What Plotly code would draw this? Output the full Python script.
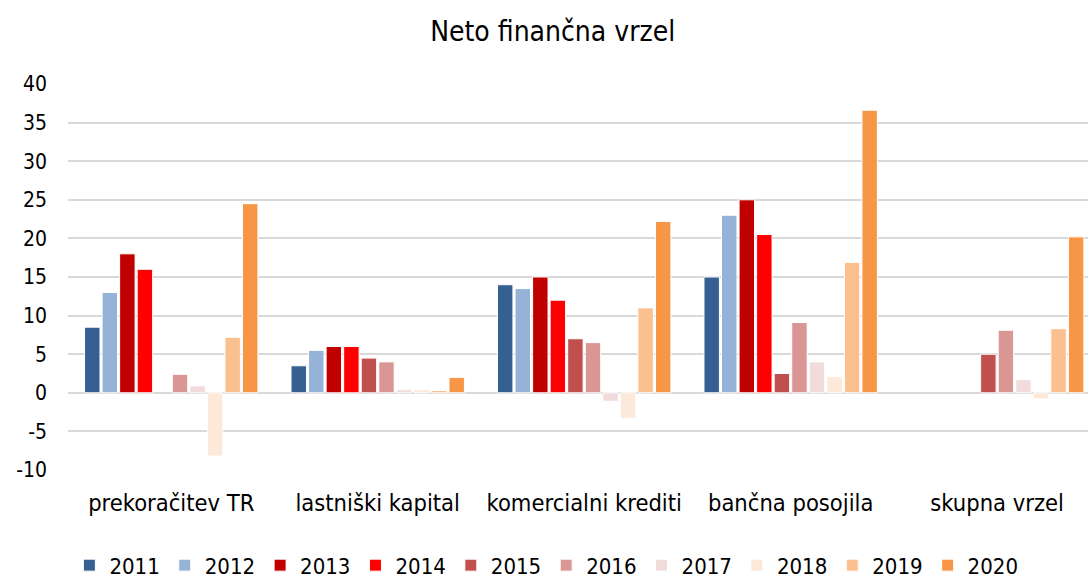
import plotly.graph_objects as go

categories = ["prekoračitev TR", "lastniški kapital", "komercialni krediti", "bančna posojila", "skupna vrzel"]
years = ["2011", "2012", "2013", "2014", "2015", "2016", "2017", "2018", "2019", "2020"]
colors = ["#376092", "#95B3D7", "#C00000", "#FF0000", "#C0504D",
          "#D99694", "#F2DCDB", "#FDE9D9", "#FAC090", "#F79646"]

v2011 = [8.5, 3.5, 14.0, 15.0, None]
v2012 = [13.0, 5.5, 13.5, 23.0, None]
v2013 = [18.0, 6.0, 15.0, 25.0, None]
v2014 = [16.0, 6.0, 12.0, 20.5, None]
v2015 = [None, 4.5, 7.0, 2.5, 5.0]
v2016 = [2.4, 4.0, 6.5, 9.1, 8.1]
v2017 = [0.9, 0.4, -1.1, 4.0, 1.7]
v2018 = [-8.2, 0.4, -3.3, 2.1, -0.8]
v2019 = [7.2, 0.3, 11.0, 16.9, 8.3]
v2020 = [24.5, 2.0, 22.2, 36.6, 20.2]

y_tickvals = [-10, -5, 0, 5, 10, 15, 20, 25, 30, 35, 40]
y_ticktext = ["-10", "-5", "0", "5", "10", "15", "20", "25", "30", "35", "40"]

series = [v2011, v2012, v2013, v2014, v2015, v2016, v2017, v2018, v2019, v2020]

FONT = "DejaVu Sans Condensed, DejaVu Sans, sans-serif"

fig = go.Figure()
for name, vals, col in zip(years, series, colors):
    fig.add_trace(go.Bar(
        name=name, x=categories, y=vals,
        marker=dict(color=col, line=dict(color="white", width=1)),
    ))

fig.update_layout(
    width=1088, height=581,
    barmode="group", bargap=0.15, bargroupgap=0.12,
    paper_bgcolor="white", plot_bgcolor="white",
    margin=dict(l=68, r=0, t=84, b=111, autoexpand=False),
    font=dict(family=FONT, color="#000000", size=21),
    title=dict(text="Neto finančna vrzel", x=0.508, xref="container",
               y=1 - 31 / 581, yref="container", yanchor="middle", xanchor="center",
               font=dict(size=28, family=FONT, color="#000000")),
    legend=dict(orientation="h", x=0.469, xanchor="center", y=-0.247, yanchor="middle",
                font=dict(size=22, family=FONT), traceorder="normal",
                itemwidth=30, tracegroupgap=0),
    showlegend=True,
)
fig.update_xaxes(range=[-0.5, 4.44], showgrid=False, zeroline=False, showline=False,
                 ticks="", tickfont=dict(size=23.5, family=FONT), ticklabelstandoff=16)
fig.update_yaxes(range=[-10, 40], tickvals=y_tickvals, ticktext=y_ticktext,
                 showgrid=True, gridcolor="#D9D9D9",
                 gridwidth=1.5, zeroline=True, zerolinecolor="#D9D9D9", zerolinewidth=1.5,
                 showline=False, ticks="", tickfont=dict(size=21, family=FONT),
                 ticklabelstandoff=20)

fig.write_html("out.html", config={"displayModeBar": False},
               post_script="document.body.style.margin='0';document.body.style.padding='0';")
